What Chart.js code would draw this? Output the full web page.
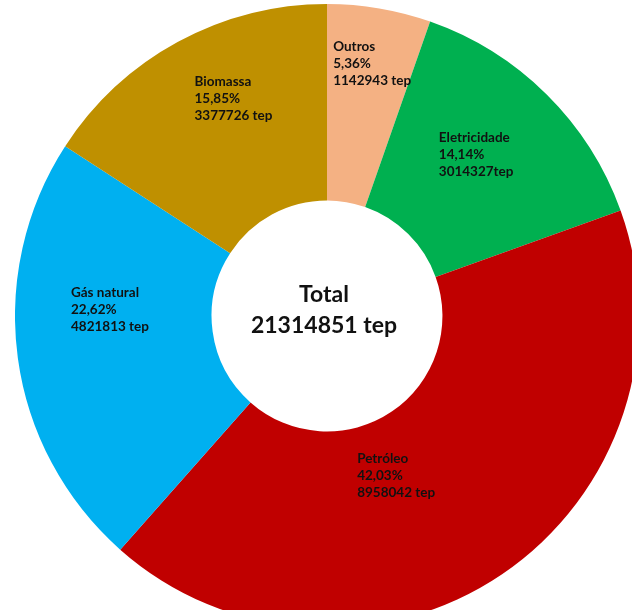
<!DOCTYPE html>
<html>
<head>
<meta charset="utf-8">
<script src="https://cdn.jsdelivr.net/npm/chart.js@4.4.1/dist/chart.umd.min.js"></script>
<style>
html, body { margin: 0; padding: 0; background: #fff; overflow: hidden; width: 632px; height: 610px; }
#wrap { position: absolute; left: 15px; top: 4px; width: 624px; height: 624px; }
</style>
</head>
<body>
<div id="wrap"><canvas id="chart-area" width="624" height="624"></canvas></div>
<script>
var categories = ['Outros', 'Eletricidade', 'Petróleo', 'Gás natural', 'Biomassa'];
var values = [1142943, 3014327, 8958042, 4821813, 3377726];
var valueLabels = ['1142943 tep', '3014327tep', '8958042 tep', '4821813 tep', '3377726 tep'];
var sliceColors = ['#F4B183', '#00B050', '#C00000', '#00B0F0', '#BF9000'];

var total = values.reduce(function(a, b) { return a + b; }, 0);

// where each label sits: fraction of the outer radius, angle nudge (deg) from slice middle
var labelPlace = [
	{ r: 0.821, shift: 0.5 },
	{ r: 0.704, shift: -2.0 },
	{ r: 0.557, shift: 10.7 },
	{ r: 0.696, shift: 9.5 },
	{ r: 0.757, shift: 5.2 }
];

var sliceLabels = {
	id: 'sliceLabels',
	afterDatasetsDraw: function(chart) {
		var ctx = chart.ctx;
		var arcs = chart.getDatasetMeta(0).data;
		ctx.save();
		ctx.fillStyle = '#111';
		ctx.font = 'bold 13.5px Lato';
		ctx.textBaseline = 'middle';
		ctx.textAlign = 'left';
		arcs.forEach(function(arc, i) {
			var p = arc.getProps(['x', 'y', 'startAngle', 'endAngle', 'outerRadius']);
			var mid = (p.startAngle + p.endAngle) / 2 + labelPlace[i].shift * Math.PI / 180;
			var rr = p.outerRadius * labelPlace[i].r;
			var ax = p.x + Math.cos(mid) * rr;
			var ay = p.y + Math.sin(mid) * rr;
			var pct = (values[i] / total * 100).toFixed(2).replace('.', ',') + '%';
			var lines = [categories[i], pct, valueLabels[i]];
			var w = 0;
			lines.forEach(function(t) { w = Math.max(w, ctx.measureText(t).width); });
			lines.forEach(function(t, k) {
				ctx.fillText(t, ax - w / 2, ay + (k - 1) * 17);
			});
		});

		// centre text
		var c = arcs[0].getProps(['x', 'y']);
		ctx.textAlign = 'center';
		ctx.font = 'bold 23px Lato';
		ctx.fillStyle = '#111';
		ctx.fillText('Total', c.x - 3, c.y - 21);
		ctx.fillText(total + ' tep', c.x - 3, c.y + 10);
		ctx.restore();
	}
};

var config = {
	type: 'doughnut',
	data: {
		labels: categories,
		datasets: [
			{
				data: values,
				backgroundColor: sliceColors,
				borderWidth: 0
			}
		]
	},
	options: {
		responsive: false,
		animation: false,
		cutout: '37%',
		layout: { padding: 0 },
		plugins: {
			legend: { display: false },
			tooltip: { enabled: false },
			title: { display: false }
		}
	},
	plugins: [sliceLabels]
};

var ctx01 = document.getElementById('chart-area').getContext('2d');
var chart01 = new Chart(ctx01, config);
</script>
</body>
</html>
